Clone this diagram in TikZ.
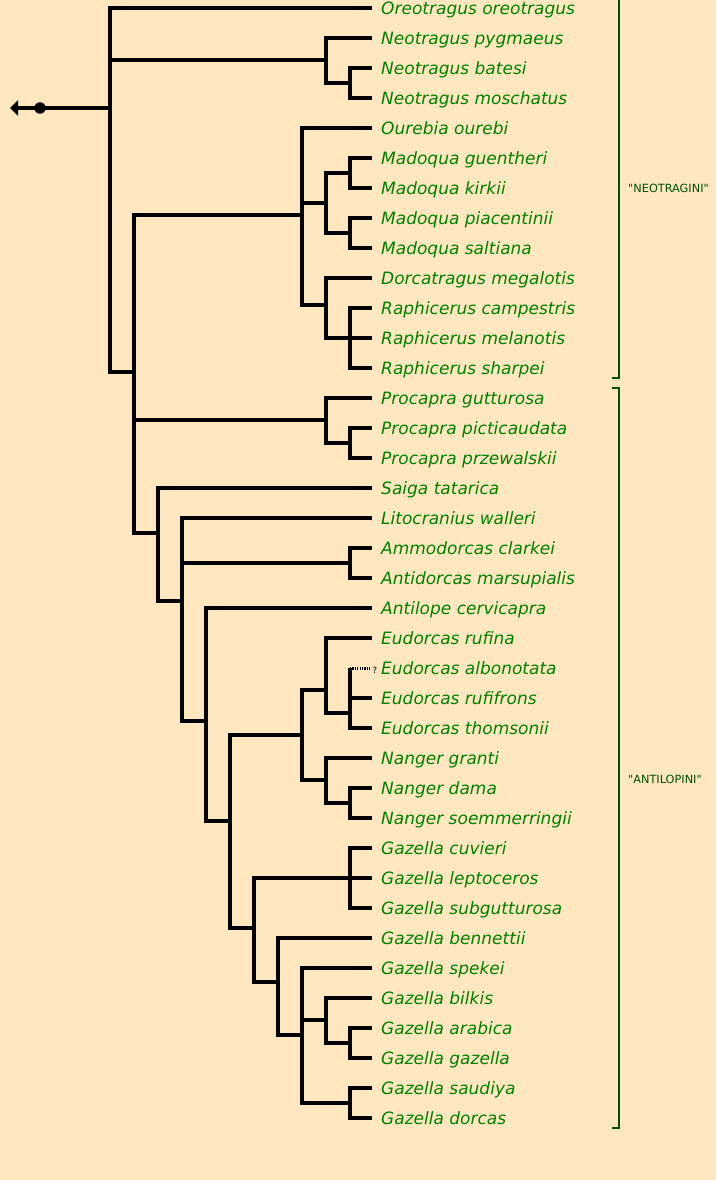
\documentclass[tikz,border=0pt]{standalone}
\usepackage{fontspec}
\setmainfont{DejaVu Sans}
\newfontfamily\taxonfont{DejaVu Sans Oblique}
\newfontfamily\cladefont{DejaVu Sans}[Ligatures=TeXOff]
\usepackage{tikz}
\usetikzlibrary{arrows.meta, positioning, calc}

\definecolor{bgpeach}{RGB}{255,231,192}
\definecolor{taxongreen}{RGB}{0,128,0}
\definecolor{cladegreen}{RGB}{0,80,0}

\begin{document}
\begin{tikzpicture}[
        x=1pt, y=-1pt,
        branch/.style={line width=4pt, line join=miter}, % tree lines
        uncertain/.style={line width=3pt, dash pattern=on 1.2pt off 1.2pt},
        taxon/.style={anchor=west, inner xsep=9pt, inner ysep=0pt, text height=13pt, text depth=0pt, text=taxongreen, font=\taxonfont\fontsize{17}{20}\selectfont},
        query/.style={anchor=base west, inner sep=0pt, font=\fontsize{8.5}{9}\selectfont},
        stemdot/.style={circle, fill, inner sep=0pt, minimum size=11.5pt},
        bracket/.style={line width=2pt, draw=cladegreen},
        clade_lbl/.style={anchor=west, inner sep=0pt, text=cladegreen, font=\cladefont\fontsize{11.3}{13}\selectfont}
    ]
    \path[fill=bgpeach, use as bounding box] (0,0) rectangle (716,1180);

    % Taxa (one row every 30pt)
    \node[taxon] (oreotragus)    at (372,8)    {Oreotragus oreotragus};
    \node[taxon] (pygmaeus)      at (372,38)   {Neotragus pygmaeus};
    \node[taxon] (batesi)        at (372,68)   {Neotragus batesi};
    \node[taxon] (moschatus)     at (372,98)   {Neotragus moschatus};
    \node[taxon] (ourebi)        at (372,128)  {Ourebia ourebi};
    \node[taxon] (guentheri)     at (372,158)  {Madoqua guentheri};
    \node[taxon] (kirkii)        at (372,188)  {Madoqua kirkii};
    \node[taxon] (piacentinii)   at (372,218)  {Madoqua piacentinii};
    \node[taxon] (saltiana)      at (372,248)  {Madoqua saltiana};
    \node[taxon] (megalotis)     at (372,278)  {Dorcatragus megalotis};
    \node[taxon] (campestris)    at (372,308)  {Raphicerus campestris};
    \node[taxon] (melanotis)     at (372,338)  {Raphicerus melanotis};
    \node[taxon] (sharpei)       at (372,368)  {Raphicerus sharpei};
    \node[taxon] (gutturosa)     at (372,398)  {Procapra gutturosa};
    \node[taxon] (picticaudata)  at (372,428)  {Procapra picticaudata};
    \node[taxon] (przewalskii)   at (372,458)  {Procapra przewalskii};
    \node[taxon] (tatarica)      at (372,488)  {Saiga tatarica};
    \node[taxon] (walleri)       at (372,518)  {Litocranius walleri};
    \node[taxon] (clarkei)       at (372,548)  {Ammodorcas clarkei};
    \node[taxon] (marsupialis)   at (372,578)  {Antidorcas marsupialis};
    \node[taxon] (cervicapra)    at (372,608)  {Antilope cervicapra};
    \node[taxon] (rufina)        at (372,638)  {Eudorcas rufina};
    \node[taxon] (albonotata)    at (372,668)  {Eudorcas albonotata};
    \node[taxon] (rufifrons)     at (372,698)  {Eudorcas rufifrons};
    \node[taxon] (thomsonii)     at (372,728)  {Eudorcas thomsonii};
    \node[taxon] (granti)        at (372,758)  {Nanger granti};
    \node[taxon] (dama)          at (372,788)  {Nanger dama};
    \node[taxon] (soemmerringii) at (372,818)  {Nanger soemmerringii};
    \node[taxon] (cuvieri)       at (372,848)  {Gazella cuvieri};
    \node[taxon] (leptoceros)    at (372,878)  {Gazella leptoceros};
    \node[taxon] (subgutturosa)  at (372,908)  {Gazella subgutturosa};
    \node[taxon] (bennettii)     at (372,938)  {Gazella bennettii};
    \node[taxon] (spekei)        at (372,968)  {Gazella spekei};
    \node[taxon] (bilkis)        at (372,998)  {Gazella bilkis};
    \node[taxon] (arabica)       at (372,1028) {Gazella arabica};
    \node[taxon] (gazella)       at (372,1058) {Gazella gazella};
    \node[taxon] (saudiya)       at (372,1088) {Gazella saudiya};
    \node[taxon] (dorcas)        at (372,1118) {Gazella dorcas};

    % Internal nodes
    \coordinate (root)         at (110,108);
    \coordinate (neotragus)    at (326,60);
    \coordinate (neo_pair)     at (350,83);
    \coordinate (core)         at (134,372);
    \coordinate (neotragini)   at (302,215);
    \coordinate (madoqua)      at (326,203);
    \coordinate (mad_a)        at (350,173);
    \coordinate (mad_b)        at (350,233);
    \coordinate (raph_grp)     at (326,305);
    \coordinate (raphicerus)   at (350,338);
    \coordinate (procapra)     at (326,420);
    \coordinate (proc_pair)    at (350,443);
    \coordinate (saiga_grp)    at (158,533);
    \coordinate (lito_grp)     at (182,601);
    \coordinate (ammo_pair)    at (350,563);
    \coordinate (antilope_grp) at (206,721);
    \coordinate (gazelles)     at (230,821);
    \coordinate (eud_nanger)   at (302,735);
    \coordinate (eudorcas)     at (326,690);
    \coordinate (eud_b)        at (350,713);
    \coordinate (nanger)       at (326,780);
    \coordinate (nanger_pair)  at (350,803);
    \coordinate (gazella_grp)  at (254,928);
    \coordinate (cuv_grp)      at (350,878);
    \coordinate (gaz_core)     at (278,982);
    \coordinate (gaz_rest)     at (302,1035);
    \coordinate (bilkis_grp)   at (326,1020);
    \coordinate (arabica_pair) at (350,1043);
    \coordinate (dorcas_pair)  at (350,1103);

    % Stem with arrow
    \node[stemdot] (stem_dot) at (40,108) {};
    \coordinate (stem_end) at (10,108);
    \draw[branch, -{Triangle[length=8pt, width=15pt]}] (root) -- (stem_end);

    % Branches
    \draw[branch] (root) |- (oreotragus.west) (root) |- (neotragus) (root) |- (core);
    \draw[branch] (neotragus) |- (pygmaeus.west) (neotragus) |- (neo_pair);
    \draw[branch] (neo_pair) |- (batesi.west) (neo_pair) |- (moschatus.west);
    \draw[branch] (core) |- (neotragini) (core) |- (procapra) (core) |- (saiga_grp);
    \draw[branch] (neotragini) |- (ourebi.west) (neotragini) |- (madoqua) (neotragini) |- (raph_grp);
    \draw[branch] (madoqua) |- (mad_a) (madoqua) |- (mad_b);
    \draw[branch] (mad_a) |- (guentheri.west) (mad_a) |- (kirkii.west);
    \draw[branch] (mad_b) |- (piacentinii.west) (mad_b) |- (saltiana.west);
    \draw[branch] (raph_grp) |- (megalotis.west) (raph_grp) |- (raphicerus);
    \draw[branch] (raphicerus) |- (campestris.west) (raphicerus) |- (melanotis.west) (raphicerus) |- (sharpei.west);
    \draw[branch] (procapra) |- (gutturosa.west) (procapra) |- (proc_pair);
    \draw[branch] (proc_pair) |- (picticaudata.west) (proc_pair) |- (przewalskii.west);
    \draw[branch] (saiga_grp) |- (tatarica.west) (saiga_grp) |- (lito_grp);
    \draw[branch] (lito_grp) |- (walleri.west) (lito_grp) |- (ammo_pair) (lito_grp) |- (antilope_grp);
    \draw[branch] (ammo_pair) |- (clarkei.west) (ammo_pair) |- (marsupialis.west);
    \draw[branch] (antilope_grp) |- (cervicapra.west) (antilope_grp) |- (gazelles);
    \draw[branch] (gazelles) |- (eud_nanger) (gazelles) |- (gazella_grp);
    \draw[branch] (eud_nanger) |- (eudorcas) (eud_nanger) |- (nanger);
    \draw[branch] (eudorcas) |- (rufina.west) (eudorcas) |- (eud_b);
    \draw[branch] (eud_b) -- (eud_b |- albonotata.west) (eud_b) |- (rufifrons.west) (eud_b) |- (thomsonii.west);
    \draw[branch] (nanger) |- (granti.west) (nanger) |- (nanger_pair);
    \draw[branch] (nanger_pair) |- (dama.west) (nanger_pair) |- (soemmerringii.west);
    \draw[branch] (gazella_grp) |- (cuv_grp) (gazella_grp) |- (gaz_core);
    \draw[branch] (cuv_grp) |- (cuvieri.west) (cuv_grp) |- (leptoceros.west) (cuv_grp) |- (subgutturosa.west);
    \draw[branch] (gaz_core) |- (bennettii.west) (gaz_core) |- (gaz_rest);
    \draw[branch] (gaz_rest) |- (spekei.west) (gaz_rest) |- (bilkis_grp) (gaz_rest) |- (dorcas_pair);
    \draw[branch] (bilkis_grp) |- (bilkis.west) (bilkis_grp) |- (arabica_pair);
    \draw[branch] (arabica_pair) |- (arabica.west) (arabica_pair) |- (gazella.west);
    \draw[branch] (dorcas_pair) |- (saudiya.west) (dorcas_pair) |- (dorcas.west);

    % Uncertain placement
    \node[query] (albo_q) at (372.5,673) {?};
    \draw[uncertain] (eud_b |- albonotata.west) -- ($(albo_q.west |- albonotata.west)+(-2,0)$);

    % Tribe brackets
    \draw[bracket] (612,-3) -- (619,-3) -- (619,378) -- (612,378);
    \draw[bracket] (612,388) -- (619,388) -- (619,1128) -- (612,1128);
    \node[clade_lbl] (neotragini_lbl) at (628,188.5) {"NEOTRAGINI"};
    \node[clade_lbl] (antilopini_lbl) at (628,779.5) {"ANTILOPINI"};

\end{tikzpicture}
\end{document}
